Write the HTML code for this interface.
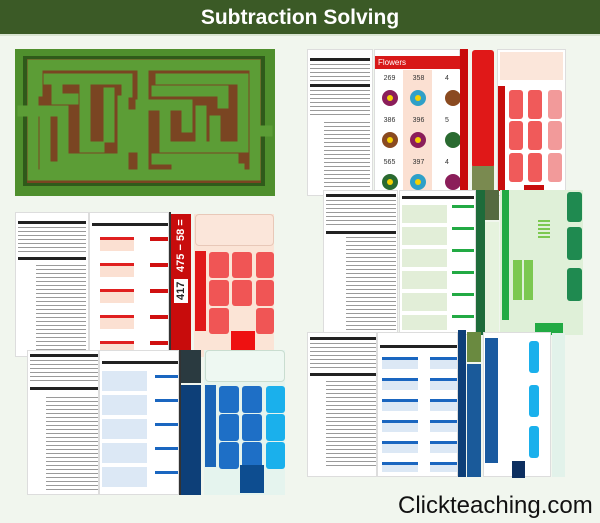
<!DOCTYPE html>
<html><head><meta charset="utf-8"><style>
*{margin:0;padding:0;box-sizing:border-box}
body{width:600px;height:523px;background:#f1f6ee;position:relative;overflow:hidden;font-family:"Liberation Sans",sans-serif}
.a{position:absolute}
.title{left:0;top:0;width:600px;height:36px;background:#3b5a26;color:#fff;font-weight:bold;font-size:21px;text-align:center;line-height:36px;border-bottom:2px solid #d9e4d2}
.sheet{background:#fff;border:1px solid #ddd}
.tx{background:repeating-linear-gradient(#fff 0 2px,#9a9a9a 2px 3px,#fff 3px 4px)}
.hb{background:#222;height:3px}
.rv{writing-mode:vertical-rl;transform:rotate(180deg);color:#fff;display:flex;align-items:center;justify-content:center}
.btn{border-radius:3px}
</style></head><body>
<div class="a title">Subtraction Solving</div>

<!-- maze -->
<svg class="a" style="left:15px;top:49px" width="260" height="147" viewBox="0 0 260 147">
<rect width="260" height="147" fill="#4f8f2d"/>
<rect x="8" y="7" width="242" height="130" fill="#2f5a1a"/>
<rect x="12" y="10" width="234" height="124" fill="#7a4522"/>
<g stroke="#5c9d36" stroke-width="11" fill="none" stroke-linecap="square">
<path d="M18 16 H240 V126 H18 Z"/>
<path d="M22 22 V42 M34 30 H112 V43 M42 40 V50 H58"/>
<path d="M8 62 H48 V110 H98 M30 72 V118 H108"/>
<path d="M70 32 V98 H84 M94 44 V88 M108 52 V118"/>
<path d="M128 22 V122 M142 42 H208 V54 M146 30 H228 V88"/>
<path d="M126 56 H172 V78 M150 66 V98 H208 M186 62 V94"/>
<path d="M142 110 H218 M162 120 H224 M200 72 V98 H228 M240 82 H252"/>
<path d="M118 66 V98"/>
</g>
</svg>

<!-- top right collage -->
<div class="a sheet" style="left:307px;top:49px;width:66px;height:147px">
 <div class="hb a" style="left:2px;top:8px;width:60px"></div>
 <div class="tx a" style="left:2px;top:12px;width:60px;height:20px"></div>
 <div class="hb a" style="left:2px;top:34px;width:60px"></div>
 <div class="tx a" style="left:2px;top:38px;width:60px;height:28px"></div>
 <div class="tx a" style="left:16px;top:70px;width:46px;height:70px"></div>
</div>
<div class="a sheet" style="left:374px;top:49px;width:86px;height:147px">
 <div class="a" style="left:0;top:6px;width:86px;height:13px;background:#d81818;color:#fff;font-size:8px;padding-left:3px;line-height:13px">Flowers</div>
 <div class="a" style="left:0;top:20px;width:86px;height:127px;background:
 linear-gradient(90deg,#fff 0 28px,#fbe0d2 28px 57px,#fff 57px)"></div>
 <div class="a" style="left:0;top:22px;width:86px;font-size:7px;color:#333;line-height:14px;display:flex;flex-wrap:wrap">
  <span style="width:29px;height:42px;text-align:center">269</span><span style="width:29px;height:42px;text-align:center">358</span><span style="width:28px;height:42px;text-align:center">4</span>
  <span style="width:29px;height:42px;text-align:center">386</span><span style="width:29px;height:42px;text-align:center">396</span><span style="width:28px;height:42px;text-align:center">5</span>
  <span style="width:29px;height:42px;text-align:center">565</span><span style="width:29px;height:42px;text-align:center">397</span><span style="width:28px;height:42px;text-align:center">4</span>
 </div>
 <svg class="a" style="left:0;top:20px" width="86" height="127">
  <g><circle cx="15" cy="28" r="8" fill="#8b1e5a"/><circle cx="15" cy="28" r="3" fill="#f5d000"/>
  <circle cx="43" cy="28" r="8" fill="#2fa0c8"/><circle cx="43" cy="28" r="3" fill="#f5d000"/>
  <circle cx="78" cy="28" r="8" fill="#8a4a20"/>
  <circle cx="15" cy="70" r="8" fill="#8a4a20"/><circle cx="15" cy="70" r="3" fill="#f5d000"/>
  <circle cx="43" cy="70" r="8" fill="#8b1e5a"/><circle cx="43" cy="70" r="3" fill="#f5d000"/>
  <circle cx="78" cy="70" r="8" fill="#2a6a30"/>
  <circle cx="15" cy="112" r="8" fill="#2a6a30"/><circle cx="15" cy="112" r="3" fill="#f5d000"/>
  <circle cx="43" cy="112" r="8" fill="#2fa0c8"/><circle cx="43" cy="112" r="3" fill="#f5d000"/>
  <circle cx="78" cy="112" r="8" fill="#8b1e5a"/></g>
 </svg>
</div>
<div class="a" style="left:460px;top:49px;width:8px;height:147px;background:#c80c0c"></div>
<div class="a btn" style="left:472px;top:50px;width:22px;height:118px;background:#e01818"></div>
<div class="a" style="left:472px;top:166px;width:22px;height:26px;background:#7a8a50"></div>
<div class="a sheet" style="left:497px;top:49px;width:69px;height:147px;background:#fff">
 <div class="a" style="left:2px;top:2px;width:63px;height:28px;background:#fbe6da"></div>
 <div class="a" style="left:0;top:36px;width:7px;height:105px;background:#c80c0c"></div>
 <div class="a btn" style="left:11px;top:40px;width:14px;height:29px;background:#f05a5a"></div>
 <div class="a btn" style="left:30px;top:40px;width:14px;height:29px;background:#f05a5a"></div>
 <div class="a btn" style="left:50px;top:40px;width:14px;height:29px;background:#f29a9a"></div>
 <div class="a btn" style="left:11px;top:71px;width:14px;height:29px;background:#f05a5a"></div>
 <div class="a btn" style="left:30px;top:71px;width:14px;height:29px;background:#f05a5a"></div>
 <div class="a btn" style="left:50px;top:71px;width:14px;height:29px;background:#f29a9a"></div>
 <div class="a btn" style="left:11px;top:103px;width:14px;height:29px;background:#f05a5a"></div>
 <div class="a btn" style="left:30px;top:103px;width:14px;height:29px;background:#f05a5a"></div>
 <div class="a btn" style="left:50px;top:103px;width:14px;height:29px;background:#f29a9a"></div>
 <div class="a" style="left:26px;top:135px;width:20px;height:12px;background:#c80c0c"></div>
</div>

<!-- middle right collage -->
<div class="a sheet" style="left:323px;top:190px;width:75px;height:145px">
 <div class="hb a" style="left:2px;top:3px;width:70px"></div>
 <div class="tx a" style="left:2px;top:7px;width:70px;height:30px"></div>
 <div class="hb a" style="left:2px;top:40px;width:70px"></div>
 <div class="tx a" style="left:22px;top:44px;width:50px;height:95px"></div>
</div>
<div class="a sheet" style="left:399px;top:190px;width:77px;height:145px">
 <div class="hb a" style="left:2px;top:5px;width:72px"></div>
 <div class="a" style="left:2px;top:14px;width:45px;height:125px;background:repeating-linear-gradient(#e2eed8 0 18px,#fff 18px 22px)"></div>
 <div class="a" style="left:52px;top:14px;width:22px;height:125px;background:repeating-linear-gradient(#22aa44 0 3px,#fff 3px 22px)"></div>
</div>
<div class="a" style="left:476px;top:190px;width:9px;height:145px;background:#1e6b3a"></div>
<div class="a" style="left:485px;top:190px;width:14px;height:30px;background:#556a40"></div>
<div class="a" style="left:485px;top:222px;width:14px;height:113px;background:#e6f3de"></div>
<div class="a" style="left:500px;top:190px;width:83px;height:145px;background:#dff0d8">
 <div class="a" style="left:2px;top:0;width:7px;height:130px;background:#22aa44"></div>
 <div class="a" style="left:13px;top:70px;width:20px;height:40px;background:repeating-linear-gradient(90deg,#7cc850 0 9px,transparent 9px 11px)"></div>
 <div class="a" style="left:38px;top:30px;width:12px;height:20px;background:repeating-linear-gradient(#7cc850 0 2px,transparent 2px 4px)"></div>
 <div class="a" style="left:35px;top:133px;width:28px;height:12px;background:#22aa44"></div>
 <div class="a btn" style="left:67px;top:2px;width:15px;height:30px;background:#1f8a50"></div>
 <div class="a btn" style="left:67px;top:37px;width:15px;height:33px;background:#1f8a50"></div>
 <div class="a btn" style="left:67px;top:78px;width:15px;height:33px;background:#1f8a50"></div>
</div>

<!-- middle left collage -->
<div class="a sheet" style="left:15px;top:212px;width:74px;height:145px">
 <div class="hb a" style="left:2px;top:8px;width:68px"></div>
 <div class="tx a" style="left:2px;top:12px;width:68px;height:30px"></div>
 <div class="hb a" style="left:2px;top:44px;width:68px"></div>
 <div class="tx a" style="left:20px;top:50px;width:50px;height:90px"></div>
</div>
<div class="a sheet" style="left:89px;top:212px;width:80px;height:145px">
 <div class="hb a" style="left:2px;top:10px;width:76px"></div>
 <div class="a" style="left:10px;top:24px;width:34px;height:120px;background:repeating-linear-gradient(#e02020 0 3px,#fbe0d2 3px 14px,#fff 14px 26px)"></div>
 <div class="a" style="left:60px;top:24px;width:18px;height:120px;background:repeating-linear-gradient(#d01010 0 4px,#fff 4px 26px)"></div>
</div>
<div class="a" style="left:169px;top:212px;width:2px;height:145px;background:#333"></div>
<div class="a" style="left:171px;top:214px;width:20px;height:143px;background:#c80c0c">
 <div class="a rv" style="left:0;top:5px;width:20px;height:130px;font-weight:bold;font-size:11px;justify-content:flex-end"><span style="background:#fff;color:#222;padding:3px 1px;margin-bottom:4px">417</span>&nbsp;475 − 58 =</div>
</div>
<div class="a" style="left:194px;top:214px;width:80px;height:143px;background:#fbe4d6">
 <div class="a" style="left:1px;top:0;width:79px;height:32px;background:#fbe6da;border:1px solid #e8c8b8;border-radius:4px"></div>
 <div class="a" style="left:1px;top:37px;width:11px;height:80px;background:#e01818"></div>
 <div class="a btn" style="left:15px;top:38px;width:20px;height:26px;background:#f05555"></div>
 <div class="a btn" style="left:38px;top:38px;width:20px;height:26px;background:#f05555"></div>
 <div class="a btn" style="left:62px;top:38px;width:18px;height:26px;background:#f05555"></div>
 <div class="a btn" style="left:15px;top:66px;width:20px;height:26px;background:#f05555"></div>
 <div class="a btn" style="left:38px;top:66px;width:20px;height:26px;background:#f05555"></div>
 <div class="a btn" style="left:62px;top:66px;width:18px;height:26px;background:#f05555"></div>
 <div class="a btn" style="left:15px;top:94px;width:20px;height:26px;background:#f05555"></div>
 <div class="a btn" style="left:62px;top:94px;width:18px;height:26px;background:#f05555"></div>
 <div class="a" style="left:37px;top:117px;width:24px;height:26px;background:#ee1111"></div>
</div>

<!-- bottom left collage -->
<div class="a sheet" style="left:27px;top:350px;width:72px;height:145px">
 <div class="hb a" style="left:2px;top:3px;width:68px"></div>
 <div class="tx a" style="left:2px;top:7px;width:68px;height:26px"></div>
 <div class="hb a" style="left:2px;top:36px;width:68px"></div>
 <div class="tx a" style="left:18px;top:44px;width:52px;height:96px"></div>
</div>
<div class="a sheet" style="left:99px;top:350px;width:80px;height:145px">
 <div class="hb a" style="left:2px;top:10px;width:76px"></div>
 <div class="a" style="left:2px;top:20px;width:45px;height:120px;background:repeating-linear-gradient(#dce8f5 0 20px,#fff 20px 24px)"></div>
 <div class="a" style="left:55px;top:24px;width:23px;height:116px;background:repeating-linear-gradient(#1a66c0 0 3px,#fff 3px 24px)"></div>
</div>
<div class="a" style="left:179px;top:350px;width:2px;height:145px;background:#333"></div>
<div class="a" style="left:181px;top:350px;width:20px;height:33px;background:#2a3a40"></div>
<div class="a" style="left:181px;top:385px;width:20px;height:110px;background:#0d3f78"></div>
<div class="a" style="left:204px;top:350px;width:81px;height:145px;background:#e5f4ee">
 <div class="a" style="left:1px;top:0;width:80px;height:32px;background:#eef8f2;border:1px solid #c9ddd0;border-radius:4px"></div>
 <div class="a" style="left:1px;top:35px;width:11px;height:82px;background:#1a66b8"></div>
 <div class="a btn" style="left:15px;top:36px;width:20px;height:27px;background:#1e6fc6"></div>
 <div class="a btn" style="left:38px;top:36px;width:20px;height:27px;background:#1e6fc6"></div>
 <div class="a btn" style="left:62px;top:36px;width:19px;height:27px;background:#1ab0ec"></div>
 <div class="a btn" style="left:15px;top:64px;width:20px;height:27px;background:#1e6fc6"></div>
 <div class="a btn" style="left:38px;top:64px;width:20px;height:27px;background:#1e6fc6"></div>
 <div class="a btn" style="left:62px;top:64px;width:19px;height:27px;background:#1ab0ec"></div>
 <div class="a btn" style="left:15px;top:92px;width:20px;height:27px;background:#1e6fc6"></div>
 <div class="a btn" style="left:38px;top:92px;width:20px;height:27px;background:#1e6fc6"></div>
 <div class="a btn" style="left:62px;top:92px;width:19px;height:27px;background:#1ab0ec"></div>
 <div class="a" style="left:36px;top:115px;width:24px;height:28px;background:#0d4d90"></div>
</div>

<!-- bottom right collage -->
<div class="a sheet" style="left:307px;top:332px;width:70px;height:145px">
 <div class="hb a" style="left:2px;top:4px;width:66px"></div>
 <div class="tx a" style="left:2px;top:8px;width:66px;height:28px"></div>
 <div class="hb a" style="left:2px;top:40px;width:66px"></div>
 <div class="tx a" style="left:18px;top:46px;width:50px;height:90px"></div>
</div>
<div class="a sheet" style="left:377px;top:332px;width:81px;height:145px">
 <div class="hb a" style="left:2px;top:12px;width:77px"></div>
 <div class="a" style="left:4px;top:24px;width:36px;height:115px;background:repeating-linear-gradient(#1a66c0 0 3px,#dce8f5 3px 12px,#fff 12px 21px)"></div>
 <div class="a" style="left:52px;top:24px;width:27px;height:115px;background:repeating-linear-gradient(#1a66c0 0 3px,#dce8f5 3px 12px,#fff 12px 21px)"></div>
</div>
<div class="a" style="left:458px;top:330px;width:8px;height:147px;background:#0d3f78"></div>
<div class="a" style="left:467px;top:332px;width:14px;height:30px;background:#6a8a40"></div>
<div class="a" style="left:467px;top:364px;width:14px;height:113px;background:#1a5a9a"></div>
<div class="a sheet" style="left:483px;top:332px;width:68px;height:145px;background:#fff">
 <div class="a" style="left:1px;top:5px;width:13px;height:125px;background:#1a5aa0"></div>
 <div class="a btn" style="left:45px;top:8px;width:10px;height:32px;background:#1ab0ec"></div>
 <div class="a btn" style="left:45px;top:52px;width:10px;height:32px;background:#1ab0ec"></div>
 <div class="a btn" style="left:45px;top:93px;width:10px;height:32px;background:#1ab0ec"></div>
 <div class="a" style="left:28px;top:128px;width:13px;height:17px;background:#0d2f60"></div>
</div>
<div class="a" style="left:552px;top:333px;width:13px;height:144px;background:#e2f2ea"></div>

<div class="a" style="left:398px;top:492px;font-size:24px;color:#111;white-space:nowrap">Clickteaching.com</div>
</body></html>
